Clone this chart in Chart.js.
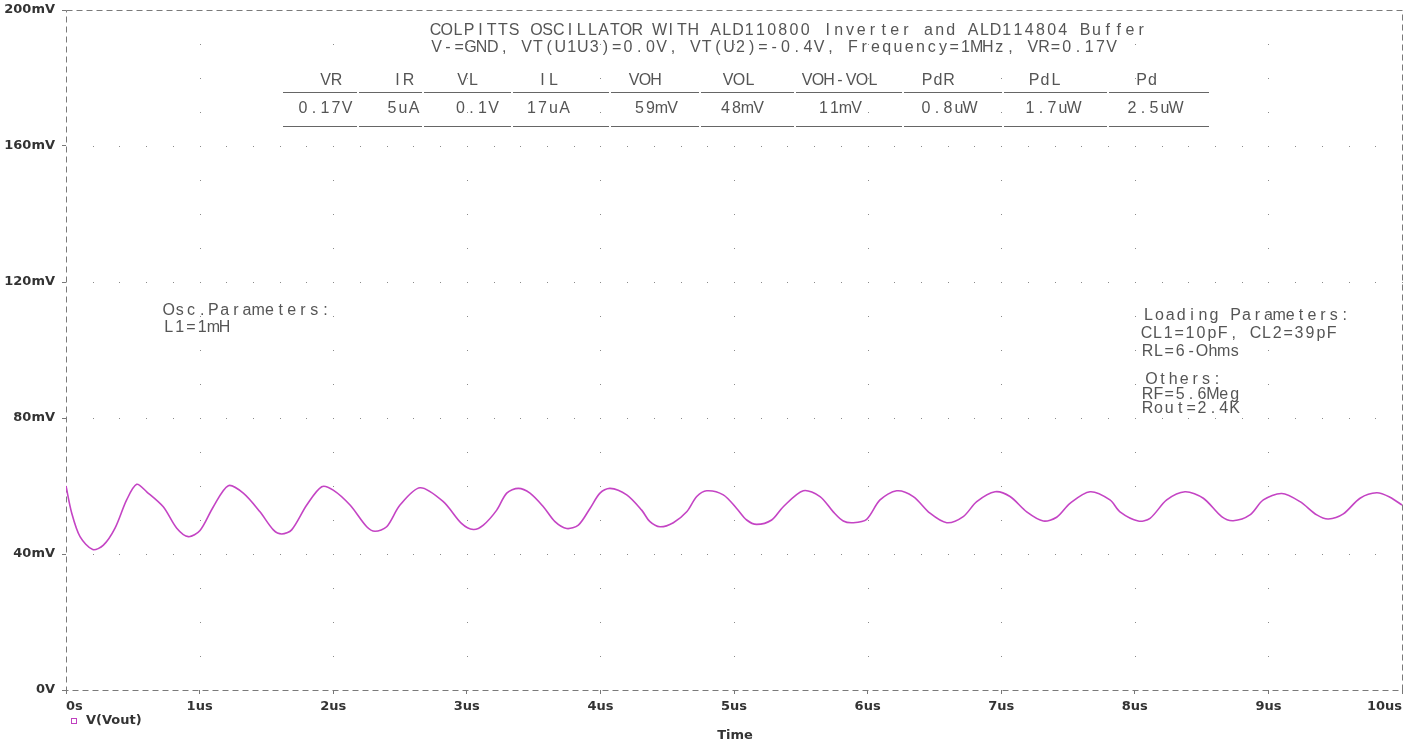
<!DOCTYPE html>
<html>
<head>
<meta charset="utf-8">
<title>Colpitts oscillator V(Vout)</title>
<script src="https://cdn.jsdelivr.net/npm/chart.js@4.4.1/dist/chart.umd.min.js"></script>
<style>
  html, body { margin: 0; padding: 0; background: #fff; }
  #wrap { width: 1419px; height: 745px; position: relative; }
</style>
</head>
<body>
<div id="wrap"><canvas id="mycanvas"></canvas></div>
<script>
// time in us, V(Vout) in mV
var timeUs = [0.00, 0.043, 0.105, 0.20, 0.28, 0.367, 0.454, 0.529, 0.604, 0.728, 0.829, 0.916,
	1.003, 1.103, 1.215, 1.327, 1.452, 1.552, 1.615, 1.689, 1.802, 1.914,
	2.00, 2.126, 2.251, 2.313, 2.40, 2.50, 2.65, 2.824, 2.96,
	3.049, 3.124, 3.224, 3.299, 3.386, 3.473, 3.573, 3.660, 3.748, 3.835, 3.922, 3.997,
	4.072, 4.197, 4.309, 4.371, 4.446, 4.546, 4.646, 4.721, 4.796, 4.920,
	5.02, 5.095, 5.170, 5.282, 5.369, 5.519, 5.644, 5.743, 5.818, 5.893, 5.993,
	6.093, 6.218, 6.342, 6.467, 6.592, 6.716, 6.817, 6.954,
	7.066, 7.191, 7.315, 7.415, 7.515, 7.665, 7.814, 7.889,
	8.026, 8.114, 8.239, 8.376, 8.513, 8.650, 8.737, 8.862, 8.962,
	9.100, 9.237, 9.362, 9.449, 9.561, 9.686, 9.811, 9.910, 10.0];
var voutMv = [60.0, 52.0, 45.1, 41.3, 42.6, 47.6, 55.9, 60.5, 58.3, 53.9, 47.6, 45.1,
	46.9, 53.9, 60.1, 57.9, 52.4, 47.1, 45.9, 47.1, 54.4, 59.8,
	58.8, 54.4, 48.0, 46.7, 48.0, 54.4, 59.5, 55.4, 49.0,
	47.2, 48.5, 52.9, 57.9, 59.3, 57.9, 53.9, 49.5, 47.5, 48.5, 53.4, 57.9,
	59.3, 57.4, 52.9, 49.5, 48.0, 49.2, 52.4, 56.9, 58.6, 57.4,
	53.4, 50.0, 48.7, 50.0, 53.9, 58.6, 56.9, 52.4, 49.7, 49.2, 50.2,
	55.9, 58.6, 56.9, 52.0, 49.2, 51.0, 55.4, 58.3,
	56.9, 52.4, 49.7, 50.8, 54.9, 58.3, 55.9, 52.4,
	49.7, 50.5, 55.9, 58.3, 56.4, 51.0, 49.8, 51.5, 55.9,
	57.8, 55.4, 51.5, 50.3, 51.8, 56.4, 58.0, 56.7, 54.4];

var xTicks = [0, 1, 2, 3, 4, 5, 6, 7, 8, 9, 10];
var yTicks = [0, 40, 80, 120, 160, 200];

var titleLines = [
	"COLPITTS OSCILLATOR WITH ALD110800 Inverter and ALD114804 Buffer",
	"V-=GND, VT(U1U3)=0.0V, VT(U2)=-0.4V, Frequency=1MHz, VR=0.17V"
];
var tableHeads = ["VR", "IR", "VL", "IL", "VOH", "VOL", "VOH-VOL", "PdR", "PdL", "Pd"];
var tableValues = ["0.17V", "5uA", "0.1V", "17uA", "59mV", "48mV", "11mV", "0.8uW", "1.7uW", "2.5uW"];
var oscNotes = ["Osc.Parameters:", "L1=1mH"];
var loadNotes = ["Loading Parameters:", "CL1=10pF, CL2=39pF", "RL=6-Ohms"];
var otherNotes = ["Others:", "RF=5.6Meg", "Rout=2.4K"];

var points = [];
for (var i = 0; i < timeUs.length; i++) {
	points.push({x: timeUs[i], y: voutMv[i]});
}

// fixed pitch text, like the probe plot font
function mono(ctx, text, x0, y, pitch) {
	ctx.textAlign = "center";
	ctx.textBaseline = "middle";
	for (var k = 0; k < text.length; k++) {
		ctx.fillText(text[k], x0 + k * pitch + pitch / 2, y);
	}
}
function monoCenter(ctx, text, cx, y, pitch) {
	mono(ctx, text, cx - text.length * pitch / 2, y, pitch);
}

var probeDecor = {
	id: "probeDecor",
	beforeDatasetsDraw: function(chart) {
		var ctx = chart.ctx;
		var xs = chart.scales.x, ys = chart.scales.y;
		ctx.save();
		ctx.fillStyle = "#8a8a8a";
		// dotted horizontal grid
		for (var v = 40; v < 200; v += 40) {
			var py = Math.round(ys.getPixelForValue(v));
			for (var t = 0.2; t < 10; t += 0.2) {
				ctx.fillRect(Math.round(xs.getPixelForValue(t)), py, 1, 1);
			}
		}
		// dotted vertical grid
		for (var tt = 1; tt < 10; tt++) {
			var px = Math.round(xs.getPixelForValue(tt));
			for (var m = 10; m < 200; m += 10) {
				ctx.fillRect(px, Math.round(ys.getPixelForValue(m)), 1, 1);
			}
		}
		// dashed frame
		var a = chart.chartArea;
		ctx.strokeStyle = "#7a7a7a";
		ctx.lineWidth = 1;
		ctx.setLineDash([6, 4]);
		ctx.strokeRect(Math.round(a.left) + 0.5, Math.round(a.top) + 0.5,
			Math.round(a.right - a.left), Math.round(a.bottom - a.top));
		ctx.restore();
	},
	afterDraw: function(chart) {
		var ctx = chart.ctx;
		ctx.save();
		ctx.fillStyle = "#555";
		ctx.font = "16px 'Liberation Sans', sans-serif";
		mono(ctx, titleLines[0], 430, 31, 11.2);
		mono(ctx, titleLines[1], 431, 48, 11.25);

		var heads = [331, 403, 468, 548, 645, 739, 840, 938, 1045, 1147];
		var vals = [325, 403, 477, 548, 656, 742, 840, 948, 1052, 1154];
		for (var c = 0; c < tableHeads.length; c++) {
			monoCenter(ctx, tableHeads[c], heads[c], 81, 11);
			monoCenter(ctx, tableValues[c], vals[c], 109, 11);
		}
		var cuts = [282, 358, 423, 512, 610, 700, 795, 903, 1003, 1108, 1210];
		ctx.strokeStyle = "#666";
		ctx.lineWidth = 1;
		ctx.beginPath();
		for (var s = 0; s < cuts.length - 1; s++) {
			ctx.moveTo(cuts[s] + 1, 92.5); ctx.lineTo(cuts[s + 1] - 1, 92.5);
			ctx.moveTo(cuts[s] + 1, 126.5); ctx.lineTo(cuts[s + 1] - 1, 126.5);
		}
		ctx.stroke();

		mono(ctx, oscNotes[0], 163, 311, 11.2);
		mono(ctx, oscNotes[1], 163, 328, 11.2);
		mono(ctx, loadNotes[0], 1143, 316, 10.9);
		mono(ctx, loadNotes[1], 1141, 334, 10.9);
		mono(ctx, loadNotes[2], 1142, 352, 10.9);
		mono(ctx, otherNotes[0], 1146, 380, 10.9);
		mono(ctx, otherNotes[1], 1142, 395, 10.9);
		mono(ctx, otherNotes[2], 1142, 409, 10.9);

		// legend + axis title
		ctx.strokeStyle = "#c040c0";
		ctx.strokeRect(71.5, 718.5, 5, 5);
		ctx.fillStyle = "#333";
		ctx.font = "bold 13px 'DejaVu Sans', sans-serif";
		ctx.textAlign = "left";
		ctx.textBaseline = "middle";
		ctx.fillText("V(Vout)", 86, 721);
		ctx.textAlign = "center";
		ctx.fillText("Time", 735, 736);
		ctx.restore();
	}
};

var ctx = document.getElementById("mycanvas");
var scopeChart = new Chart(ctx, {
	type: "line",
	data: {
		datasets: [{
			label: "V(Vout)",
			data: points,
			borderColor: "#c444c4",
			borderWidth: 1.6,
			pointRadius: 0,
			tension: 0.3,
			fill: false
		}]
	},
	options: {
		responsive: true,
		maintainAspectRatio: false,
		animation: false,
		layout: { padding: { top: 10, right: 17, left: 0, bottom: 0 } },
		plugins: {
			legend: { display: false },
			tooltip: { enabled: false }
		},
		scales: {
			x: {
				type: "linear",
				min: 0,
				max: 10,
				afterBuildTicks: function(scale) {
					scale.ticks = xTicks.map(function(v) { return {value: v}; });
				},
				afterFit: function(scale) {
					scale.height = 55;
					scale.paddingLeft = 0;
					scale.paddingRight = 0;
				},
				grid: { drawOnChartArea: false, tickLength: 4, color: "#777" },
				border: { display: false },
				ticks: {
					align: "inner",
					padding: 5,
					maxRotation: 0,
					color: "#333",
					font: { family: "'DejaVu Sans', sans-serif", size: 13, weight: "bold" },
					callback: function(v) { return v === 0 ? "0s" : v + "us"; }
				}
			},
			y: {
				min: 0,
				max: 200,
				afterBuildTicks: function(scale) {
					scale.ticks = yTicks.map(function(v) { return {value: v}; });
				},
				afterFit: function(scale) {
					scale.width = 66;
					scale.paddingTop = 0;
					scale.paddingBottom = 0;
				},
				grid: { drawOnChartArea: false, tickLength: 4, color: "#777" },
				border: { display: false },
				ticks: {
					padding: 7,
					color: "#333",
					font: { family: "'DejaVu Sans', sans-serif", size: 13, weight: "bold" },
					callback: function(v) { return v === 0 ? "0V" : v + "mV"; }
				}
			}
		}
	},
	plugins: [probeDecor]
});
</script>
</body>
</html>
